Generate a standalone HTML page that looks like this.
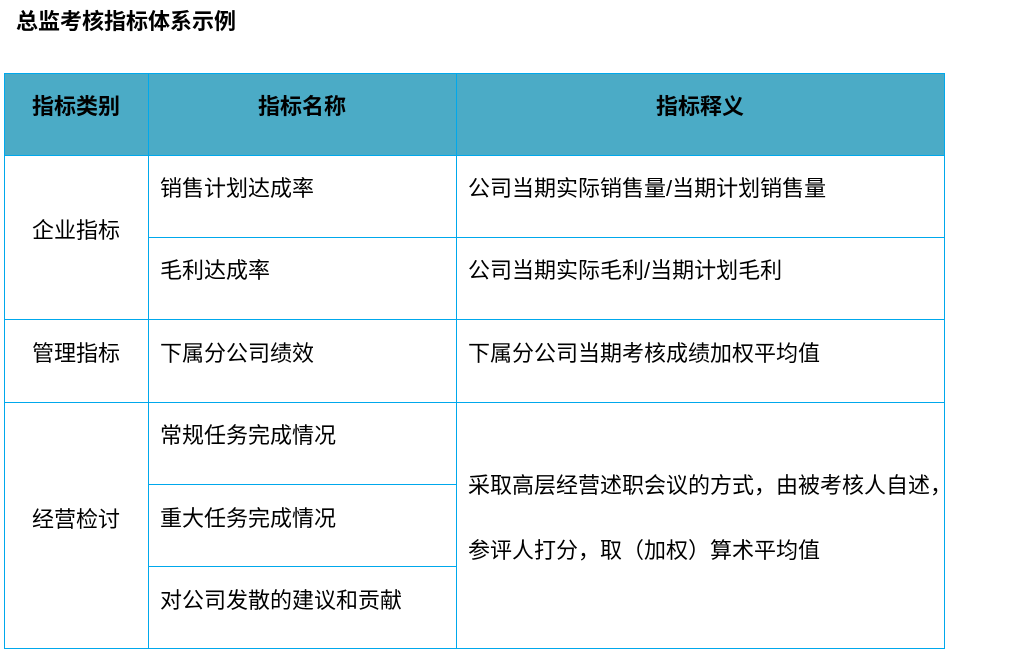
<!DOCTYPE html>
<html><head><meta charset="utf-8"><style>
body{margin:0;width:1016px;height:651px;background:#fff;position:relative;overflow:hidden;font-family:"Liberation Sans","Noto Sans CJK SC",sans-serif;color:#000}
.t{position:absolute;white-space:nowrap;font-size:22px;line-height:24px}
.b{font-weight:bold}
.h{position:absolute;background:#00a8ec}
</style></head><body>
<div class="t b" style="left:16px;top:10px;font-size:22px">总监考核指标体系示例</div>
<div style="position:absolute;left:4px;top:73px;width:940px;height:82px;background:#4babc6"></div>
<div class="h" style="left:4px;top:73px;width:941px;height:1px"></div>
<div class="h" style="left:4px;top:155px;width:941px;height:1px"></div>
<div class="h" style="left:148px;top:237px;width:797px;height:1px"></div>
<div class="h" style="left:4px;top:319px;width:941px;height:1px"></div>
<div class="h" style="left:4px;top:402px;width:941px;height:1px"></div>
<div class="h" style="left:148px;top:484px;width:309px;height:1px"></div>
<div class="h" style="left:148px;top:566px;width:309px;height:1px"></div>
<div class="h" style="left:4px;top:648px;width:941px;height:1px"></div>
<div class="h" style="left:4px;top:73px;width:1px;height:576px"></div>
<div class="h" style="left:148px;top:73px;width:1px;height:576px"></div>
<div class="h" style="left:456px;top:73px;width:1px;height:576px"></div>
<div class="h" style="left:944px;top:73px;width:1px;height:576px"></div>
<div class="t b" style="left:4px;width:144px;text-align:center;top:95px">指标类别</div>
<div class="t b" style="left:148px;width:308px;text-align:center;top:95px">指标名称</div>
<div class="t b" style="left:456px;width:488px;text-align:center;top:95px">指标释义</div>
<div class="t" style="left:4px;width:144px;text-align:center;top:219px">企业指标</div>
<div class="t" style="left:4px;width:144px;text-align:center;top:342px">管理指标</div>
<div class="t" style="left:4px;width:144px;text-align:center;top:508px">经营检讨</div>
<div class="t" style="left:160px;top:177px">销售计划达成率</div>
<div class="t" style="left:160px;top:259px">毛利达成率</div>
<div class="t" style="left:160px;top:342px">下属分公司绩效</div>
<div class="t" style="left:160px;top:424px">常规任务完成情况</div>
<div class="t" style="left:160px;top:507px">重大任务完成情况</div>
<div class="t" style="left:160px;top:589px">对公司发散的建议和贡献</div>
<div class="t" style="left:468px;top:177px">公司当期实际销售量/当期计划销售量</div>
<div class="t" style="left:468px;top:259px">公司当期实际毛利/当期计划毛利</div>
<div class="t" style="left:468px;top:342px">下属分公司当期考核成绩加权平均值</div>
<div class="t" style="left:468px;top:474px">采取高层经营述职会议的方式，由被考核人自述，</div>
<div class="t" style="left:468px;top:539px">参评人打分，取（加权）算术平均值</div>
</body></html>
